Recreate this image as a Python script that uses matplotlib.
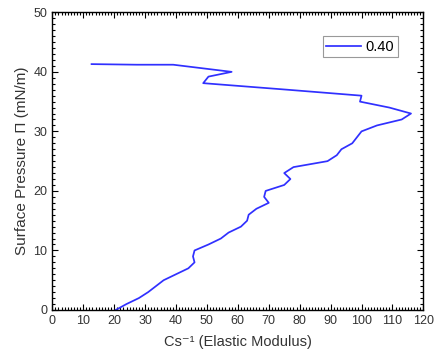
import matplotlib
matplotlib.use('Agg')
import matplotlib.pyplot as plt
from matplotlib.ticker import MultipleLocator

plt.rcParams['font.family'] = ['Liberation Sans', 'DejaVu Sans']

# elastic modulus vs surface pressure
modulus = [20.5, 24, 28, 31, 33.5, 36, 40, 44, 46, 45.5, 46, 50.5, 54.5, 57, 61,
           63, 63.5, 66, 70, 68.5, 69, 75, 77, 75, 78, 89, 92, 93.5, 97, 98.5,
           100, 105, 113, 116, 109, 99.5, 100, 76, 48.8, 50.5, 58, 39.1, 27.3, 12.7]
pressure = [0, 1, 2, 3, 4, 5, 6, 7, 8, 9, 10, 11, 12, 13, 14,
            15, 16, 17, 18, 19, 20, 21, 22, 23, 24, 25, 26, 27, 28, 29,
            30, 31, 32, 33, 34, 35, 36, 37, 38.1, 39.2, 40, 41.2, 41.2, 41.3]
series_label = '0.40'

fig = plt.figure(figsize=(4.34, 3.55), dpi=100)
ax = fig.add_axes([0.1205, 0.1268, 0.855, 0.8385])

ax.plot(modulus, pressure, color='#3030ff', linewidth=1.25, label=series_label)

ax.set_xlim(0, 120)
ax.set_ylim(0, 50)
ax.xaxis.set_major_locator(MultipleLocator(10))
ax.xaxis.set_minor_locator(MultipleLocator(1))
ax.yaxis.set_major_locator(MultipleLocator(10))
ax.yaxis.set_minor_locator(MultipleLocator(1))
ax.tick_params(which='both', direction='in', top=True, right=True,
               labelsize=9, labelcolor='#333333', width=0.8)
ax.tick_params(which='major', length=4)
ax.tick_params(which='minor', length=2.2)
for s in ax.spines.values():
    s.set_linewidth(1.0)

ax.set_xlabel('Cs\u207b\u00b9 (Elastic Modulus)', fontsize=10.5, color='#333333', labelpad=6)
ax.set_ylabel('Surface Pressure \u03a0 (mN/m)', fontsize=11, color='#333333', labelpad=3)

leg = ax.legend(loc='upper left', bbox_to_anchor=(0.729, 0.92), borderaxespad=0,
                fontsize=10.5, fancybox=False, framealpha=1, edgecolor='#999999',
                handlelength=2.4, handletextpad=0.3, borderpad=0.25)
leg.get_frame().set_linewidth(0.8)

fig.savefig('out.png', dpi=100)
